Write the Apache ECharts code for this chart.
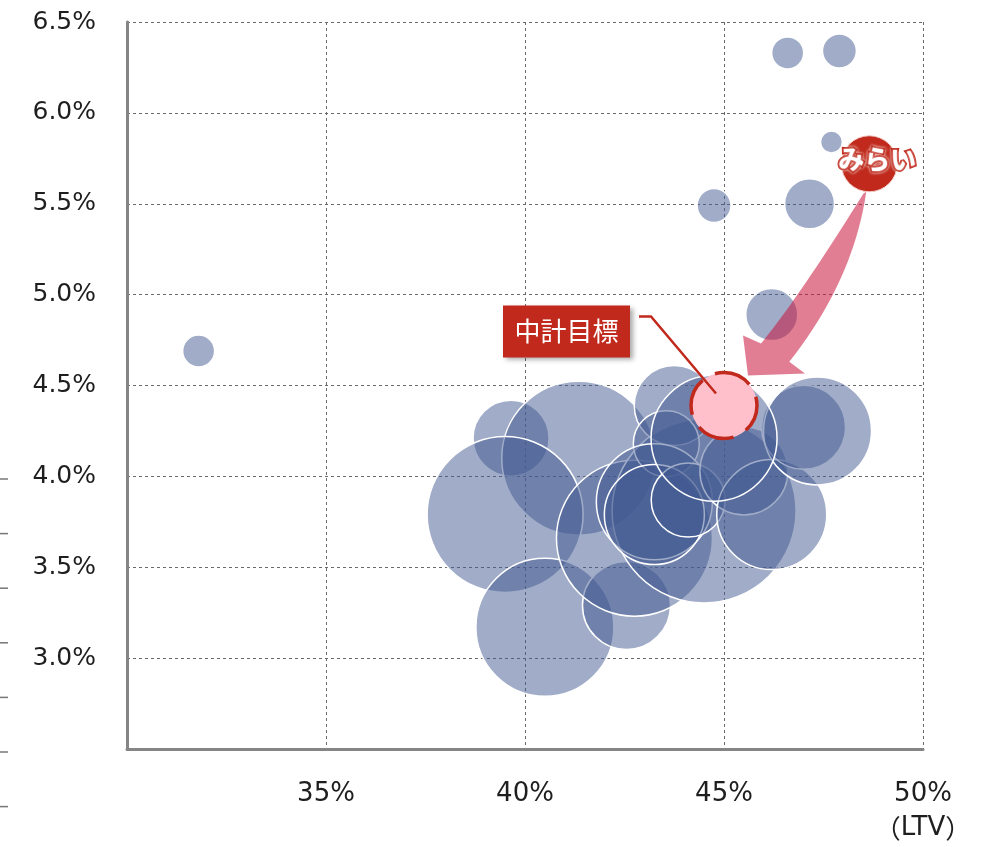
<!DOCTYPE html>
<html>
<head>
<meta charset="utf-8">
<script src="https://cdn.jsdelivr.net/npm/echarts@6/dist/echarts.min.js"></script>
<style>
  html,body{margin:0;padding:0;background:#fff;}
  #chart{width:987px;height:847px;}
</style>
</head>
<body>
<div id="chart"></div>
<script>
// LTV(%) / 利回り(%) / バブルの大きさ
const peerLtv   = [31.8, 46.6, 47.9, 47.7, 44.75, 47.15, 46.2, 39.65, 41.35, 39.5, 40.5, 42.55, 42.75, 44.5, 43.75, 43.55, 43.25, 43.25, 44.1, 45.5, 46.2, 47.0, 47.35, 44.75];
const peerYield = [4.69, 6.33, 6.34, 5.84, 5.49, 5.50, 4.89, 4.21, 4.10, 3.79, 3.17, 3.29, 3.66, 3.81, 4.39, 4.18, 3.86, 3.79, 3.87, 4.03, 3.79, 4.27, 4.25, 4.21];
const peerSize  = [64, 64, 72, 30, 72, 156, 169, 361, 1482, 1521, 1190, 484, 1521, 2116, 400, 272, 841, 625, 342, 484, 756, 441, 729, 992];

const miraiPoint  = [48.65, 5.72, 196];
const targetPoint = [45.0, 4.39, 272];

const xTicks = [30, 35, 40, 45, 50];
const yTicks = [2.5, 3.0, 3.5, 4.0, 4.5, 5.0, 5.5, 6.0, 6.5];

const peerData = peerLtv.map((x, i) => [x, peerYield[i], peerSize[i]]);

const RED = '#c0291b';
const labelFont = 'DejaVu Sans';
const jpFont = '"Noto Sans CJK JP"';

const sizeFn = d => Math.sqrt(d[2]) * 4;

const myChart = echarts.init(document.getElementById('chart'));

const option = {
    animation: false,
    grid: {left: 127, right: 64, top: 22, bottom: 98, outerBoundsMode: 'none'},
    xAxis: {
        type: 'value',
        min: xTicks[0],
        max: xTicks[xTicks.length - 1],
        interval: 5,
        axisLine: {show: true, lineStyle: {color: '#858585', width: 3}},
        axisTick: {show: false},
        splitLine: {show: true, lineStyle: {color: '#6a6a6a', width: 1, type: [3, 3]}},
        axisLabel: {
            margin: 28,
            fontFamily: labelFont,
            fontSize: 26,
            color: '#1e1e1e',
            lineHeight: 34,
            formatter: v => {
                if (v === xTicks[0]) return '';
                if (v === xTicks[xTicks.length - 1]) return v + '%\n{p|（}LTV{p|）}';
                return v + '%';
            },
            rich: {
                p: {fontFamily: jpFont, fontSize: 26, color: '#1e1e1e', lineHeight: 34}
            }
        }
    },
    yAxis: {
        type: 'value',
        min: yTicks[0],
        max: yTicks[yTicks.length - 1],
        interval: 0.5,
        axisLine: {show: true, lineStyle: {color: '#858585', width: 3}},
        axisTick: {show: false},
        splitLine: {show: true, lineStyle: {color: '#6a6a6a', width: 1, type: [3, 3]}},
        axisLabel: {
            margin: 31,
            fontFamily: labelFont,
            fontSize: 25,
            color: '#1e1e1e',
            formatter: v => v === yTicks[0] ? '' : v.toFixed(1) + '%'
        }
    },
    series: [
        {
            name: 'peers',
            type: 'scatter',
            data: peerData,
            symbolSize: sizeFn,
            itemStyle: {color: 'rgba(65,89,145,0.5)', opacity: 1, borderColor: '#ffffff', borderWidth: 1.5},
            z: 2
        },
        {
            name: 'みらい',
            type: 'scatter',
            data: [miraiPoint],
            symbolSize: sizeFn,
            itemStyle: {color: RED, opacity: 1, borderColor: '#f3c9c4', borderWidth: 1},
            label: {
                show: true,
                formatter: 'みらい',
                position: 'inside',
                offset: [8, -5],
                fontFamily: jpFont,
                fontSize: 26,
                fontWeight: 'bold',
                color: '#ffffff',
                textBorderColor: RED,
                textBorderWidth: 4,
                textShadowColor: 'rgba(255,255,255,0.9)',
                textShadowBlur: 3
            },
            z: 4
        },
        {
            name: '中計目標',
            type: 'scatter',
            data: [targetPoint],
            symbolSize: sizeFn,
            itemStyle: {color: '#ffbfcb', opacity: 1, borderColor: RED, borderWidth: 3.5, borderType: [38, 14], borderDashOffset: 10},
            z: 6
        }
    ]
};
myChart.setOption(option);

// 注記(矢印・吹き出し)は点の位置から組み立てる
const A = myChart.convertToPixel({seriesIndex: 1}, miraiPoint);
const T = myChart.convertToPixel({seriesIndex: 2}, targetPoint);
const at = (b, dx, dy) => [b[0] + dx, b[1] + dy];

// 2次ベジェを点列にする
function quad(p0, c, p1, n) {
    const pts = [];
    for (let i = 0; i <= n; i++) {
        const t = i / n, u = 1 - t;
        pts.push([u * u * p0[0] + 2 * u * t * c[0] + t * t * p1[0],
                  u * u * p0[1] + 2 * u * t * c[1] + t * t * p1[1]]);
    }
    return pts;
}

const arrowPts = [].concat(
    quad(at(A, -3, 28), at(A, -16, 117), at(A, -80, 198), 20),
    [at(T, 81, -32), at(T, 24, -30), at(T, 19, -70), at(T, 37, -62)],
    quad(at(T, 37, -62), at(A, -70, 133), at(A, -6, 30), 20)
);

const leftTicks = [];
for (let i = 0; i < 7; i++) {
    const y = 479 + i * 54.6;
    leftTicks.push({
        type: 'line',
        shape: {x1: 0, y1: y, x2: 8, y2: y},
        style: {stroke: '#777', lineWidth: 1.5}
    });
}

myChart.setOption({
    graphic: [
        ...leftTicks,
        {
            type: 'polygon',
            z: 50,
            shape: {points: arrowPts},
            style: {fill: 'rgba(200,20,60,0.55)'}
        },
        {
            type: 'rect',
            z: 60,
            shape: {x: T[0] - 221, y: T[1] - 100, width: 127, height: 52},
            style: {fill: RED, shadowBlur: 5, shadowOffsetX: 3, shadowOffsetY: 3, shadowColor: 'rgba(0,0,0,0.35)'}
        },
        {
            type: 'text',
            z: 61,
            x: T[0] - 157.5,
            y: T[1] - 74,
            style: {
                text: '中計目標',
                fill: '#fff',
                font: '26px ' + jpFont,
                align: 'center',
                verticalAlign: 'middle'
            }
        },
        {
            type: 'polyline',
            z: 62,
            shape: {points: [[T[0] - 85, T[1] - 89], [T[0] - 73, T[1] - 89], [T[0] - 8, T[1] - 12]]},
            style: {stroke: RED, lineWidth: 2.5, fill: null}
        }
    ]
});
</script>
</body>
</html>
